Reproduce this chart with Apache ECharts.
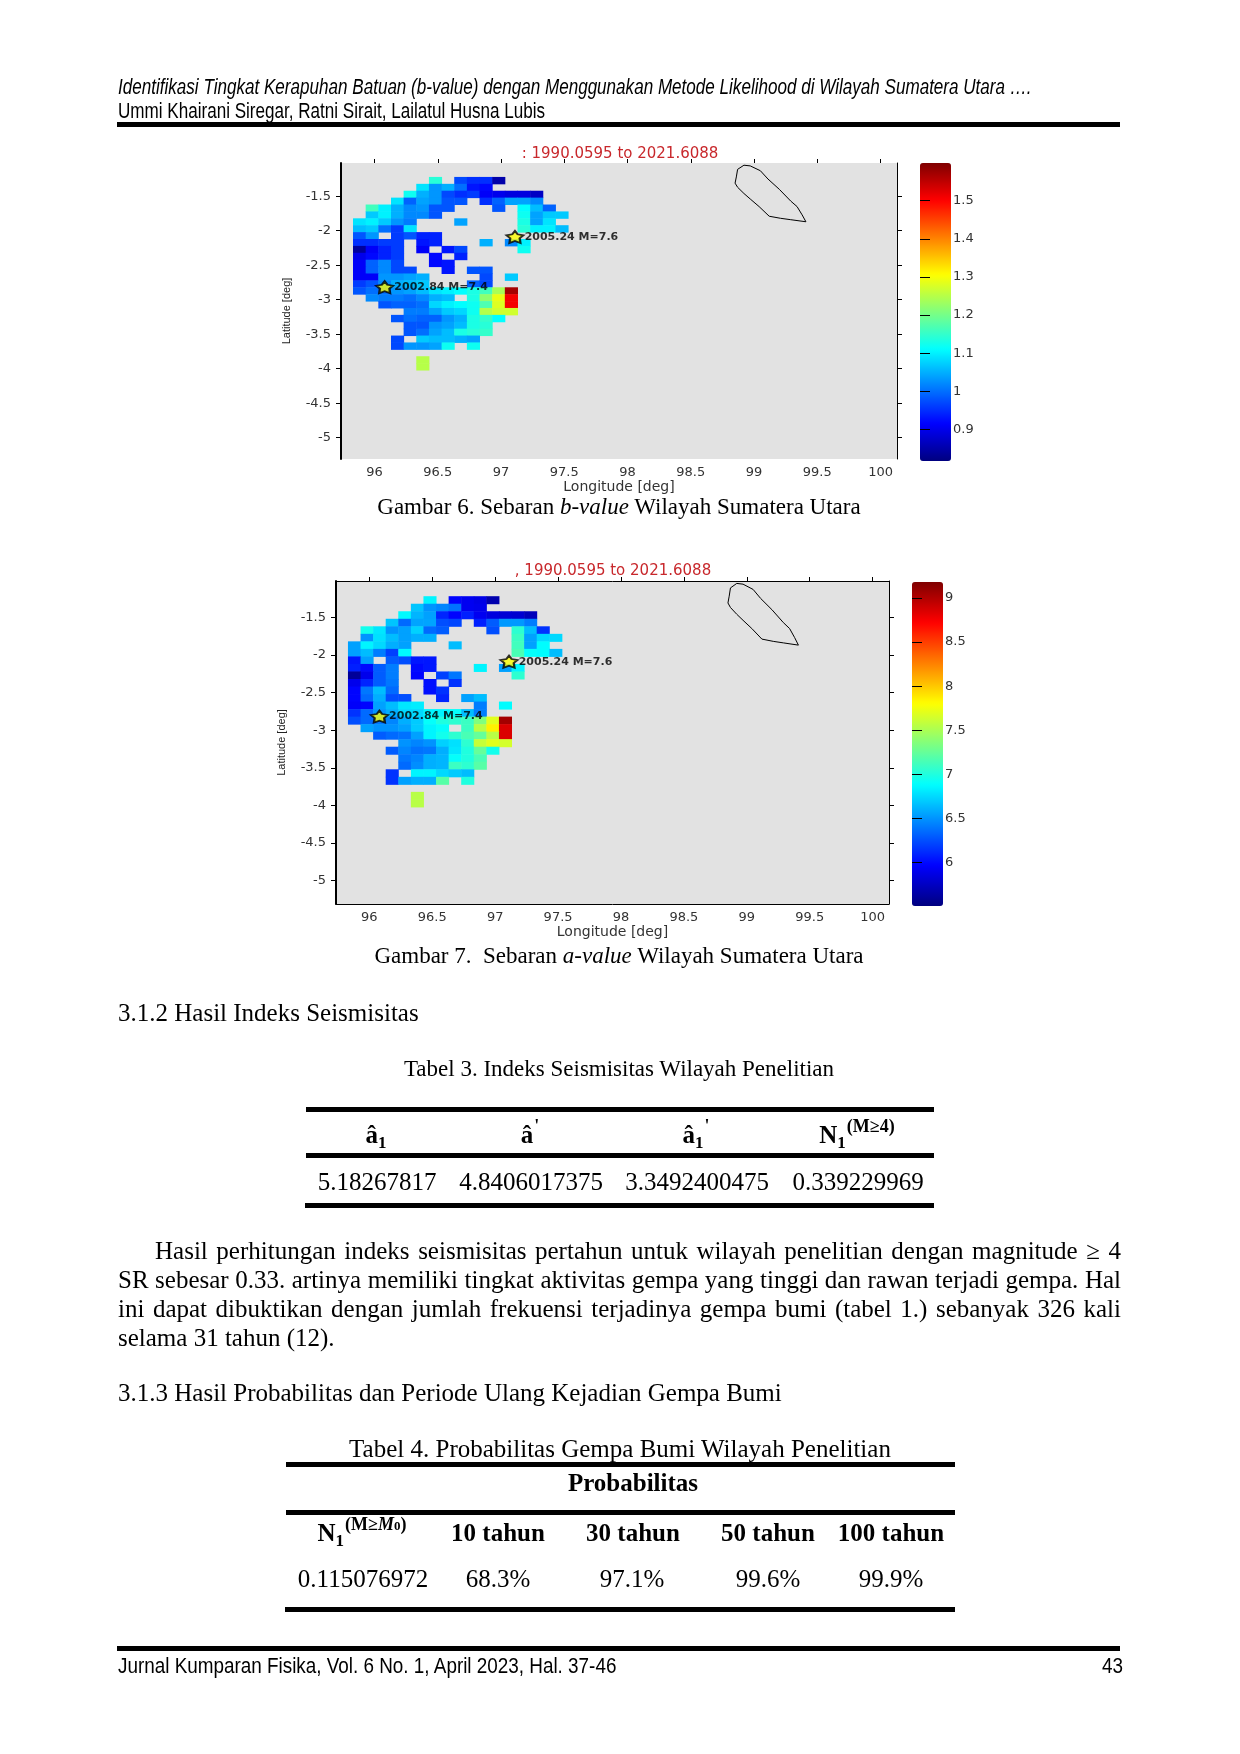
<!DOCTYPE html>
<html>
<head>
<meta charset="utf-8">
<title>Gambar 6 dan 7</title>
<script src="https://cdn.jsdelivr.net/npm/echarts@6/dist/echarts.min.js"></script>
<style>
html, body { margin: 0; padding: 0; background: #fff; }
#page { position: relative; width: 1240px; height: 1754px; overflow: hidden; }
#chart { position: absolute; left: 0; top: 0; width: 1240px; height: 1754px; }
.t { position: absolute; white-space: nowrap; transform: translateY(-50%); font: 25px "Liberation Serif", serif; color: #000; }
.c { transform: translate(-50%, -50%); }
.small { font-size: 23px; }
.sans { font: 22px "Liberation Sans", sans-serif; transform-origin: left center; transform: translateY(-50%) scaleX(0.776); }
.foot { transform: translateY(-50%) scaleX(0.858); }
.rule { position: absolute; background: #000; height: 5px; }
.just { white-space: normal; text-align: justify; text-align-last: justify; }
b sub { font-size: 17px; vertical-align: -5px; line-height: 0; }
b sup { font-size: 18px; vertical-align: 11px; line-height: 0; margin-left: 1px; }
</style>
</head>
<body>
<div id="page">
  <div id="chart"></div>

  <div class="t sans" style="left:118px;top:87px;font-style:italic">Identifikasi Tingkat Kerapuhan Batuan (b-value) dengan Menggunakan Metode Likelihood di Wilayah Sumatera Utara ….</div>
  <div class="t sans" style="left:118px;top:111px">Ummi Khairani Siregar, Ratni Sirait, Lailatul Husna Lubis</div>
  <div class="rule" style="left:117px;top:122px;width:1003px"></div>

  <div class="t c small" style="left:619px;top:507px">Gambar 6. Sebaran <i>b-value</i> Wilayah Sumatera Utara</div>
  <div class="t c small" style="left:619px;top:956px">Gambar 7.&nbsp; Sebaran <i>a-value</i> Wilayah Sumatera Utara</div>

  <div class="t" style="left:118px;top:1013px">3.1.2 Hasil Indeks Seismisitas</div>
  <div class="t c small" style="left:619px;top:1069px">Tabel 3. Indeks Seismisitas Wilayah Penelitian</div>

  <div class="rule" style="left:306px;top:1107px;width:628px"></div>
  <div class="t c" style="left:376px;top:1135px"><b>â<sub>1</sub></b></div>
  <div class="t c" style="left:530px;top:1135px"><b>â<sup>'</sup></b></div>
  <div class="t c" style="left:696px;top:1135px"><b>â<sub>1</sub><sup>'</sup></b></div>
  <div class="t c" style="left:857px;top:1135px"><b>N<sub>1</sub><sup>(M≥4)</sup></b></div>
  <div class="rule" style="left:306px;top:1153px;width:628px"></div>
  <div class="t c" style="left:377px;top:1182px">5.18267817</div>
  <div class="t c" style="left:531px;top:1182px">4.8406017375</div>
  <div class="t c" style="left:697px;top:1182px">3.3492400475</div>
  <div class="t c" style="left:858px;top:1182px">0.339229969</div>
  <div class="rule" style="left:305px;top:1203px;width:629px"></div>

  <div class="t just" style="left:155px;top:1251px;width:966px">Hasil perhitungan indeks seismisitas pertahun untuk wilayah penelitian dengan magnitude ≥ 4</div>
  <div class="t just" style="left:118px;top:1280px;width:1003px">SR sebesar 0.33. artinya memiliki tingkat aktivitas gempa yang tinggi dan rawan terjadi gempa. Hal</div>
  <div class="t just" style="left:118px;top:1309px;width:1003px">ini dapat dibuktikan dengan jumlah frekuensi terjadinya gempa bumi (tabel 1.) sebanyak 326 kali</div>
  <div class="t" style="left:118px;top:1338px">selama 31 tahun (12).</div>

  <div class="t" style="left:118px;top:1393px">3.1.3 Hasil Probabilitas dan Periode Ulang Kejadian Gempa Bumi</div>
  <div class="t c" style="left:620px;top:1449px">Tabel 4. Probabilitas Gempa Bumi Wilayah Penelitian</div>

  <div class="rule" style="left:286px;top:1462px;width:669px"></div>
  <div class="t c" style="left:633px;top:1483px"><b>Probabilitas</b></div>
  <div class="rule" style="left:286px;top:1510px;width:669px"></div>
  <div class="t c" style="left:362px;top:1533px"><b>N<sub>1</sub><sup>(M≥<i>M</i><span style="font-size:13px">0</span>)</sup></b></div>
  <div class="t c" style="left:498px;top:1533px"><b>10 tahun</b></div>
  <div class="t c" style="left:633px;top:1533px"><b>30 tahun</b></div>
  <div class="t c" style="left:768px;top:1533px"><b>50 tahun</b></div>
  <div class="t c" style="left:891px;top:1533px"><b>100 tahun</b></div>
  <div class="t c" style="left:363px;top:1579px">0.115076972</div>
  <div class="t c" style="left:498px;top:1579px">68.3%</div>
  <div class="t c" style="left:632px;top:1579px">97.1%</div>
  <div class="t c" style="left:768px;top:1579px">99.6%</div>
  <div class="t c" style="left:891px;top:1579px">99.9%</div>
  <div class="rule" style="left:285px;top:1607px;width:670px"></div>

  <div class="rule" style="left:117px;top:1646px;width:1003px"></div>
  <div class="t sans foot" style="left:118px;top:1666px">Jurnal Kumparan Fisika, Vol. 6 No. 1, April 2023, Hal. 37-46</div>
  <div class="t sans foot" style="left:1102px;top:1666px">43</div>
</div>

<script>
var _ = null;

// cell centres of the 0.1 degree grid
var lonCenters = [95.88, 95.98, 96.08, 96.18, 96.28, 96.38, 96.48, 96.58, 96.68, 96.78, 96.88, 96.98, 97.08, 97.18, 97.28, 97.38, 97.48, 97.58];
var latCenters = [-1.27, -1.37, -1.47, -1.57, -1.67, -1.77, -1.87, -1.97, -2.07, -2.17, -2.27, -2.37, -2.47, -2.57, -2.67, -2.77, -2.87, -2.97, -3.07, -3.17, -3.27, -3.37, -3.47, -3.57, -3.67, -3.77, -3.87, -3.97];

// b-value per row (north to south), left to right
var bValues = [
    [_, _, _, _, _, _, 1.14, _, .97, .95, .95, .85],
    [_, _, _, _, _, 1.09, 1.03, 1.05, 1.00, .93, .92],
    [_, _, _, _, 1.12, 1.05, 1.03, .97, .95, .96, .91, .90, .89, .89, .87],
    [_, _, _, 1.09, .99, 1.04, 1.03, .98, .98, _, .95, .99, 1.04, 1.04, 1.02],
    [_, 1.16, 1.10, 1.05, 1.02, 1.03, .98, .98, _, _, _, .98, _, 1.11, 1.06, .99],
    [_, 1.07, 1.10, 1.05, 1.02, 1.02, .98, _, _, _, _, _, _, 1.12, 1.04, 1.07, 1.07],
    [1.09, 1.10, 1.07, 1.03, 1.01, _, _, _, 1.04, _, _, _, _, 1.13, 1.04, 1.09],
    [1.06, 1.07, 1.00, .96, 1.09, _, _, _, _, _, _, _, _, 1.14, 1.10, 1.10, 1.06],
    [.98, 1.03, _, .96, .98, .94, .94],
    [.95, .95, .96, .96, _, .93, .94, _, _, _, 1.05, _, 1.02, 1.10],
    [.84, .91, .94, .96, _, .91, _, .93, .97, _, _, _, _, 1.12],
    [.90, .92, .94, .96, _, _, .92, _, .94],
    [.91, .99, 1.02, .97, _, _, .92, .93],
    [.91, .99, 1.02, .97, .97, _, _, .93, _, .98, .98],
    [.91, .91, 1.03, 1.03, 1.04, 1.05, _, _, _, _, .97, _, 1.07],
    [.96, .98, 1.02, 1.05, 1.06, 1.07, _, _, _, .99, .97],
    [.98, 1.00, 1.00, 1.03, 1.04, 1.06, 1.09, 1.10, 1.11, 1.13, 1.16, 1.24, 1.57],
    [_, 1.02, 1.01, 1.01, 1.00, 1.02, 1.05, 1.06, _, 1.13, 1.22, 1.29, 1.51],
    [_, _, .98, .99, .99, 1.00, 1.08, 1.10, 1.11, 1.12, 1.17, 1.28, 1.51],
    [_, _, _, _, 1.01, 1.01, 1.04, 1.07, 1.08, 1.12, 1.25, 1.27, 1.27],
    [_, _, _, .98, 1.00, .99, .99, 1.03, 1.05, 1.13, 1.15, 1.11],
    [_, _, _, _, .98, .98, 1.03, 1.04, 1.06, 1.13, 1.14],
    [_, _, _, _, .98, 1.00, 1.04, 1.06, 1.13, 1.14, 1.15],
    [_, _, _, .97, _, 1.07, 1.06, 1.06, 1.05, 1.04],
    [_, _, _, .97, 1.03, 1.03, 1.04, 1.12, _, 1.12],
    [],
    [_, _, _, _, _, 1.25],
    [_, _, _, _, _, 1.25]
];

// a-value per row, same grid
var aValues = [
    [_, _, _, _, _, _, 6.85, _, 5.98, 5.92, 5.88, 5.68],
    [_, _, _, _, _, 6.68, 6.50, 6.45, 6.38, 5.92, 5.90],
    [_, _, _, _, 6.87, 6.62, 6.55, 6.10, 5.98, 6.08, 5.92, 5.85, 5.82, 5.80, 5.72],
    [_, _, _, 6.68, 6.35, 6.56, 6.56, 6.25, 6.22, _, 6.08, 6.30, 6.52, 6.52, 6.42],
    [_, 6.95, 6.80, 6.50, 6.55, 6.72, 6.35, 6.30, _, _, _, 6.25, _, 7.05, 6.65, 6.15],
    [_, 6.50, 6.78, 6.65, 6.55, 6.60, 6.60, _, _, _, _, _, _, 7.10, 6.55, 6.75, 6.75],
    [6.55, 6.85, 6.75, 6.60, 6.55, _, _, _, 6.65, _, _, _, _, 7.12, 6.55, 6.88],
    [6.55, 6.65, 6.42, 6.20, 6.88, _, _, _, _, _, _, _, _, 7.15, 6.90, 6.88, 6.65],
    [6.05, 6.55, _, 6.30, 6.25, 6.05, 6.05],
    [6.08, 6.00, 6.30, 6.42, _, 6.00, 6.05, _, _, _, 6.85, _, 6.55, 6.85],
    [5.60, 5.90, 6.30, 6.42, _, 5.98, _, 6.20, 6.40, _, _, _, _, 7.05],
    [5.90, 6.10, 6.30, 6.40, _, _, 6.02, _, 6.15],
    [5.98, 6.40, 6.65, 6.35, _, _, 6.02, 6.15],
    [5.98, 6.35, 6.60, 6.25, 6.25, _, _, 6.10, _, 6.55, 6.65],
    [5.95, 5.98, 6.55, 6.65, 6.80, 6.82, _, _, _, _, 6.42, _, 6.88],
    [6.15, 6.35, 6.50, 6.60, 6.75, 6.75, 6.85, 6.85, 6.90, 6.65, 6.42],
    [6.25, 6.35, 6.40, 6.45, 6.60, 6.70, 6.90, 7.00, 7.05, 7.10, 7.35, 7.70, 9.05],
    [_, 6.55, 6.50, 6.50, 6.55, 6.70, 6.85, 6.90, _, 7.10, 7.55, 7.85, 8.85],
    [_, _, 6.30, 6.35, 6.38, 6.55, 6.85, 6.95, 7.05, 7.15, 7.25, 7.55, 8.85],
    [_, _, _, _, 6.50, 6.45, 6.50, 6.72, 6.78, 7.05, 7.60, 7.70, 7.65],
    [_, _, _, 6.30, 6.45, 6.38, 6.40, 6.60, 6.80, 7.00, 7.25, 6.95],
    [_, _, _, _, 6.40, 6.45, 6.60, 6.62, 6.90, 7.00, 7.15],
    [_, _, _, _, 6.35, 6.48, 6.60, 6.62, 7.10, 7.05, 7.20],
    [_, _, _, 6.15, _, 6.85, 6.85, 6.75, 6.70, 6.65],
    [_, _, _, 6.15, 6.55, 6.60, 6.60, 7.20, _, 7.00],
    [],
    [_, _, _, _, _, 7.55],
    [_, _, _, _, _, 7.55]
];

var lonTicks = [96, 96.5, 97, 97.5, 98, 98.5, 99, 99.5, 100];
var latTicks = [-1.5, -2, -2.5, -3, -3.5, -4, -4.5, -5];
var bBarTicks = [0.9, 1, 1.1, 1.2, 1.3, 1.4, 1.5];
var aBarTicks = [6, 6.5, 7, 7.5, 8, 8.5, 9];

// main shocks and island outline
var shockLon = [97.11, 96.08];
var shockLat = [-2.09, -2.82];
var shockNames = ['2005.24 M=7.6', '2002.84 M=7.4'];
var islandLon = [98.92, 98.87, 98.86, 98.85, 98.87, 98.92, 98.97, 99.04, 99.12, 99.21, 99.29, 99.41, 99.38, 99.34, 99.29, 99.2, 99.11, 99.05, 98.97, 98.92];
var islandLat = [-1.05, -1.11, -1.22, -1.31, -1.37, -1.46, -1.54, -1.65, -1.79, -1.82, -1.84, -1.87, -1.77, -1.65, -1.57, -1.4, -1.25, -1.13, -1.06, -1.05];

var jet = ['#00007f', '#0000ff', '#007fff', '#00ffff', '#7fff7f', '#ffff00', '#ff7f00', '#ff0000', '#7f0000'];
var starPath = 'path://M50 0 L66 28 L100 36 L78 60 L82 98 L50 82 L18 98 L22 60 L0 36 L34 28 Z';

var chart = echarts.init(document.getElementById('chart'));

function cells(rows) {
    var out = [];
    rows.forEach(function (row, r) {
        row.forEach(function (v, c) {
            if (v !== null) out.push([lonCenters[c], latCenters[r], v]);
        });
    });
    return out;
}

function renderCell(params, api) {
    var a = api.coord([api.value(0) - 0.05, api.value(1) + 0.05]);
    var b = api.coord([api.value(0) + 0.05, api.value(1) - 0.05]);
    return {
        type: 'rect',
        shape: { x: a[0], y: a[1], width: b[0] - a[0] + 0.5, height: b[1] - a[1] + 0.5 },
        style: { fill: api.visual('color') }
    };
}

var tickFont = { fontFamily: 'DejaVu Sans', fontSize: 13, color: '#333' };

function tickAxis(position, min, max, ticks, gridIndex, opts) {
    var line = { show: opts.line, lineStyle: { color: '#000', width: opts.lineWidth || 1 } };
    return {
        type: 'value', gridIndex: gridIndex, position: position, min: min, max: max, scale: true,
        splitLine: { show: false },
        axisLine: line,
        axisTick: { show: opts.ticks !== false, length: opts.tickLength || 5, customValues: ticks, lineStyle: { color: '#000' } },
        axisLabel: opts.labels ? Object.assign({ customValues: ticks, margin: opts.margin || 8, hideOverlap: false, showMinLabel: true, showMaxLabel: true }, tickFont) : { show: false },
        z: 10,
        zlevel: opts.zlevel || 0
    };
}

var option = {
    animation: false,
    title: [], grid: [], xAxis: [], yAxis: [], visualMap: [], series: []
};

// one map panel plus its colour bar
function addPanel(p) {
    var g = option.grid.length;
    var lonMin = 95.735, lonMax = 100.13, latMin = -5.31, latMax = -1.018;

    option.title.push({
        text: p.title, left: p.titleX, top: p.titleY, textAlign: 'center', padding: 0,
        textStyle: { fontFamily: 'DejaVu Sans', fontSize: 15, fontWeight: 'normal', color: '#c8282c' }
    });

    option.grid.push({ left: p.left, top: p.top, width: p.width, height: p.height, show: true, backgroundColor: '#e2e2e2', borderWidth: 0 });
    // the tick grid sits 5px inside the bar so its outward ticks end on the bar edges
    option.grid.push({ left: p.barLeft + 5, top: p.barTop, width: p.barWidth - 10, height: p.barHeight, show: false });

    var xBottom = tickAxis('bottom', lonMin, lonMax, lonTicks, g, { line: p.box, labels: true, ticks: false, margin: 7 });
    xBottom.name = 'Longitude [deg]';
    xBottom.nameLocation = 'middle';
    xBottom.nameGap = p.nameGap;
    xBottom.nameTextStyle = { fontFamily: 'DejaVu Sans', fontSize: 14, color: '#333' };
    var xi = option.xAxis.length;
    option.xAxis.push(xBottom);
    option.xAxis.push(tickAxis('top', lonMin, lonMax, lonTicks, g, { line: p.box, tickLength: 4 }));
    option.xAxis.push({ type: 'value', gridIndex: g + 1, show: false, min: 0, max: 1 });

    var yLeft = tickAxis('left', latMin, latMax, latTicks, g, { line: true, lineWidth: 2, labels: true, margin: 10 });
    yLeft.name = 'Latitude [deg]';
    yLeft.nameLocation = 'middle';
    yLeft.nameGap = 49;
    yLeft.nameTextStyle = { fontFamily: 'Liberation Sans', fontSize: 11, color: '#222' };
    var yi = option.yAxis.length;
    option.yAxis.push(yLeft);
    option.yAxis.push(tickAxis('right', latMin, latMax, latTicks, g, { line: true }));
    option.yAxis.push(tickAxis('right', p.barMin, p.barMax, p.barTicks, g + 1, { line: false, labels: true, margin: 7, zlevel: 1 }));
    option.yAxis.push(tickAxis('left', p.barMin, p.barMax, p.barTicks, g + 1, { line: false, zlevel: 1 }));

    var si = option.series.length;
    option.visualMap.push({
        type: 'continuous', seriesIndex: si, dimension: 2, min: p.barMin, max: p.barMax,
        left: p.barLeft, top: p.barTop, itemWidth: p.barWidth, itemHeight: p.barHeight,
        padding: 0, text: null, showLabel: false, calculable: false, hoverLink: false, realtime: false,
        inRange: { color: jet }, z: 2
    });

    option.series.push({
        type: 'custom', xAxisIndex: xi, yAxisIndex: yi, data: cells(p.values),
        encode: { x: 0, y: 1 }, renderItem: renderCell, silent: true
    });
    option.series.push({
        type: 'line', xAxisIndex: xi, yAxisIndex: yi, showSymbol: false, silent: true,
        data: islandLon.map(function (lon, i) { return [lon, islandLat[i]]; }),
        lineStyle: { color: '#000', width: 1 }
    });
    option.series.push({
        type: 'scatter', xAxisIndex: xi, yAxisIndex: yi, silent: true, symbol: starPath, symbolSize: [17, 12],
        data: shockLon.map(function (lon, i) { return { name: shockNames[i], value: [lon, shockLat[i]] }; }),
        itemStyle: { color: '#ffff00', borderColor: '#000', borderWidth: 2 },
        label: { show: true, position: 'right', distance: 0, formatter: '{b}', fontFamily: 'DejaVu Sans', fontSize: 11, fontWeight: 'bold', color: '#000' },
        z: 5
    });
}

addPanel({
    title: ': 1990.0595 to 2021.6088', titleX: 620, titleY: 147, nameGap: 16,
    left: 341, top: 163, width: 556, height: 296, box: false,
    barLeft: 920, barTop: 163, barWidth: 31, barHeight: 298,
    barMin: 0.817, barMax: 1.599, barTicks: bBarTicks, values: bValues
});

addPanel({
    title: ', 1990.0595 to 2021.6088', titleX: 613, titleY: 564, nameGap: 18,
    left: 336, top: 581, width: 553, height: 323, box: true,
    barLeft: 912, barTop: 582, barWidth: 31, barHeight: 324,
    barMin: 5.51, barMax: 9.18, barTicks: aBarTicks, values: aValues
});

chart.setOption(option);
</script>
</body>
</html>
